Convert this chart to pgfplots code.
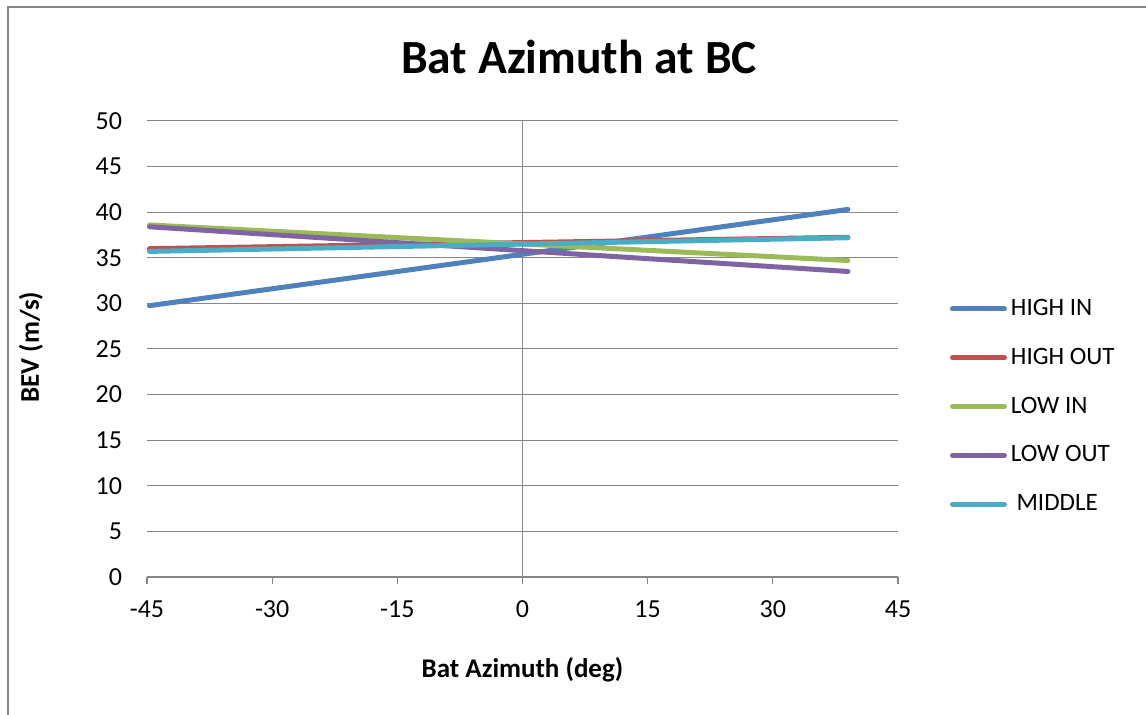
\documentclass[border=0pt]{standalone}
\usepackage{pgfplots}
\pgfplotsset{compat=1.18}
\usepackage{fontspec}
\setmainfont{Carlito}
\definecolor{cBlue}{HTML}{4F81BD}
\definecolor{cRed}{HTML}{C0504D}
\definecolor{cGreen}{HTML}{9BBB59}
\definecolor{cPurple}{HTML}{8064A2}
\definecolor{cCyan}{HTML}{4BACC6}
\definecolor{gridgray}{HTML}{868686}
\begin{document}
\begin{tikzpicture}
\useasboundingbox (0,0) rectangle (573pt,357.5pt);
\draw[gridgray, line width=1pt] (3.75pt,0pt) -- (3.75pt,353.75pt) -- (573pt,353.75pt);
\node[font=\fontsize{23.8}{28}\selectfont\bfseries] at (289.5pt,329pt) {Bat Azimuth at BC};
\begin{axis}[
  at={(73.5pt,69pt)}, anchor=south west,
  scale only axis, width=375.5pt, height=228pt,
  xmin=-45, xmax=45, ymin=0, ymax=50,
  xtick={-45,-30,-15,0,15,30,45},
  ytick={0,5,...,50},
  /pgf/number format/assume math mode=true,
  ticklabel style={font=\fontsize{13}{15}\selectfont},
  axis x line*=bottom, axis y line*=left,
  y axis line style={draw=none},
  x axis line style={gridgray, line width=0.6pt},
  x tick style={gridgray, line width=0.6pt},
  xtick align=outside, major tick length=3.5pt,
  y tick style={draw=none},
  yticklabel style={xshift=-9pt},
  xticklabel style={yshift=-5pt},
  ymajorgrids, grid style={gridgray, line width=0.5pt},
  xlabel={Bat Azimuth (deg)}, ylabel={BEV (m/s)},
  label style={font=\fontsize{13.5}{16}\selectfont\bfseries},
  xlabel style={at={(axis description cs:0.5,-0.204)}, anchor=center},
  ylabel style={at={(axis description cs:-0.1545,0.504)}, anchor=center},
  legend style={at={(axis description cs:1.066,0.374)}, anchor=west, draw=none, fill=none,
    font=\fontsize{12.5}{14}\selectfont, row sep=10.8pt, inner sep=1pt},
  legend cell align=left,
  legend image code/.code={\draw[#1, line width=2.5pt, line cap=round] (0pt,0pt) -- (26pt,0pt);},
  every axis plot/.append style={line width=2.5pt, line cap=round},
]
\addplot[gridgray, line width=0.6pt, forget plot] coordinates {(0,0) (0,50)};
\addplot[cBlue] coordinates {(-44.7,29.75) (39,40.3)};
\addlegendentry{HIGH IN}
\addplot[cRed] coordinates {(-44.7,36.0) (39,37.25)};
\addlegendentry{HIGH OUT}
\addplot[cGreen] coordinates {(-44.7,38.6) (39,34.7)};
\addlegendentry{LOW IN}
\addplot[cPurple] coordinates {(-44.7,38.4) (39,33.5)};
\addlegendentry{LOW OUT}
\addplot[cCyan] coordinates {(-44.7,35.7) (39,37.2)};
\addlegendentry{\ MIDDLE}
\end{axis}
\end{tikzpicture}
\end{document}
